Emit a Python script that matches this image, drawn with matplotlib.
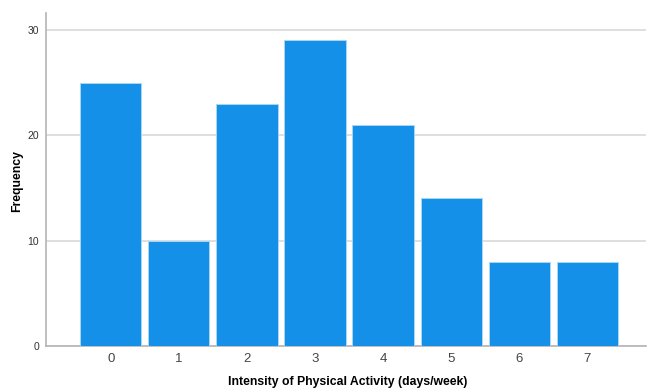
import matplotlib.pyplot as plt

# days/week of physical activity and how many respondents
days = [0, 1, 2, 3, 4, 5, 6, 7]
freq = [25, 10, 23, 29, 21, 14, 8, 8]

plt.rcParams['font.family'] = ['Liberation Sans', 'DejaVu Sans']

fig = plt.figure(figsize=(6.47, 3.90), dpi=100)
ax = fig.add_axes([46 / 647, 1 - 346 / 390, 600 / 647, 333 / 390])

ax.bar(days, freq, width=0.9, color='#1490e8', edgecolor='#a8d6f5', linewidth=0.7, zorder=3)

ax.set_xlim(-0.95, 7.86)
ax.set_ylim(0, 31.6)
ax.set_yticks([0, 10, 20, 30])
ax.set_xticks(days)
ax.yaxis.grid(True, color='#d9d9d9', linewidth=1.2, zorder=0)

for s in ['top', 'right']:
    ax.spines[s].set_visible(False)
for s in ['left', 'bottom']:
    ax.spines[s].set_color('#b4b4b4')
    ax.spines[s].set_linewidth(1.2)

ax.tick_params(axis='y', length=0, pad=5, labelsize=7.5, colors='#333333')
ax.tick_params(axis='x', length=0, pad=5, labelsize=9.5, colors='#444444')

# axis titles placed by hand so they stay inside the small canvas
fig.text(348 / 647, 1 - 382 / 390, 'Intensity of Physical Activity (days/week)',
         fontsize=8.8, fontweight='bold', ha='center', va='center')
fig.text(17 / 647, 1 - 181 / 390, 'Frequency', fontsize=8.8, fontweight='bold',
         rotation=90, ha='center', va='center')

fig.savefig('out.png', dpi=100)
